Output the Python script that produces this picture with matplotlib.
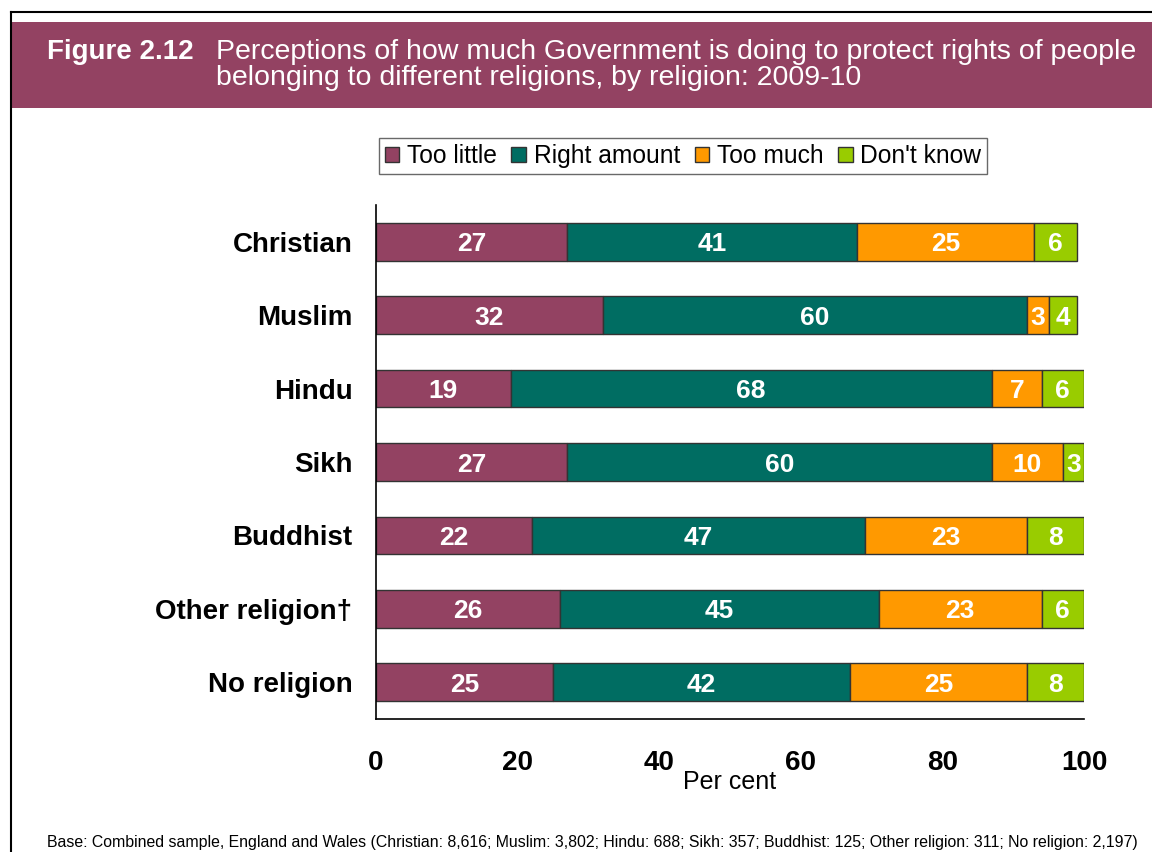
import matplotlib
matplotlib.use("Agg")
import matplotlib.pyplot as plt
from matplotlib.patches import Rectangle
from matplotlib.lines import Line2D
import numpy as np

plt.rcParams['font.family'] = ['Liberation Sans', 'DejaVu Sans']

# Survey results, per cent of respondents in each religion group
religions = ["Christian", "Muslim", "Hindu", "Sikh", "Buddhist",
             "Other religion\u2020", "No religion"]
too_little = [27, 32, 19, 27, 22, 26, 25]
right_amount = [41, 60, 68, 60, 47, 45, 42]
too_much = [25, 3, 7, 10, 23, 23, 25]
dont_know = [6, 4, 6, 3, 8, 6, 8]

series_names = ["Too little", "Right amount", "Too much", "Don't know"]
series_colors = ["#934262", "#006D62", "#FF9900", "#99CC00"]
x_ticks = [0, 20, 40, 60, 80, 100]

fig = plt.figure(figsize=(11.52, 8.52), dpi=100)
W, H = 1152, 852

def fx(px):
    return px / W

def fy(py):
    return 1 - py / H

# Outer frame and title band
fig.add_artist(Line2D([fx(11), fx(11)], [fy(12), 0], transform=fig.transFigure,
                      color="black", lw=1.5))
fig.add_artist(Line2D([fx(11), 1], [fy(12), fy(12)], transform=fig.transFigure,
                      color="black", lw=1.5))
fig.add_artist(Rectangle((fx(12), fy(108)), 1 - fx(12), fy(22) - fy(108),
                         transform=fig.transFigure, facecolor="#934262",
                         edgecolor="none"))
fig.text(fx(47), fy(52), "Figure 2.12", color="white", fontsize=20,
         fontweight="bold", va="center", ha="left")
fig.text(fx(216), fy(52), "Perceptions of how much Government is doing to protect rights of people",
         color="white", fontsize=20.5, va="center", ha="left")
fig.text(fx(216), fy(78), "belonging to different religions, by religion: 2009-10",
         color="white", fontsize=20.5, va="center", ha="left")

ax = fig.add_axes([fx(376), fy(719), fx(1084) - fx(376), fy(205) - fy(719)])

series = [too_little, right_amount, too_much, dont_know]
y = np.arange(len(religions))
left = np.zeros(len(religions))
handles = []
for name, vals, col in zip(series_names, series, series_colors):
    vals = np.array(vals, dtype=float)
    bars = ax.barh(y, vals, left=left, height=0.515, color=col,
                   edgecolor="#333333", linewidth=1.0, label=name)
    handles.append(bars)
    for yi, l, v in zip(y, left, vals):
        ax.text(l + v / 2, yi, f"{int(v)}", ha="center", va="center_baseline",
                color="white", fontsize=19, fontweight="bold")
    left += vals

ax.set_ylim(len(religions) - 0.5, -0.5)
ax.set_xlim(0, 100)
ax.set_yticks(y)
ax.set_yticklabels(religions, fontsize=20, fontweight="bold")
ax.set_xticks(x_ticks)
ax.set_xticklabels([str(t) for t in x_ticks], fontsize=20, fontweight="bold")
ax.tick_params(axis="both", length=0)
ax.tick_params(axis="y", pad=17)
ax.tick_params(axis="x", pad=22)
for s in ["top", "right"]:
    ax.spines[s].set_visible(False)
ax.spines["left"].set_linewidth(1.2)
ax.spines["bottom"].set_linewidth(1.2)

fig.text(fx(730), fy(782), "Per cent", fontsize=18, ha="center", va="center")

fig.legend(handles=handles, labels=series_names, loc="center",
           bbox_to_anchor=(fx(683), fy(156)), ncol=4, fontsize=17.7,
           frameon=True, fancybox=False, edgecolor="#444444",
           handlelength=0.6, handleheight=0.6, handletextpad=0.3,
           columnspacing=0.6, borderpad=0.25, borderaxespad=0)

fig.text(fx(47), fy(843), "Base: Combined sample, England and Wales (Christian: 8,616; Muslim: 3,802; "
         "Hindu: 688; Sikh: 357; Buddhist: 125; Other religion: 311; No religion: 2,197)",
         fontsize=11.4, ha="left", va="center")

fig.savefig("out.png", dpi=100)
